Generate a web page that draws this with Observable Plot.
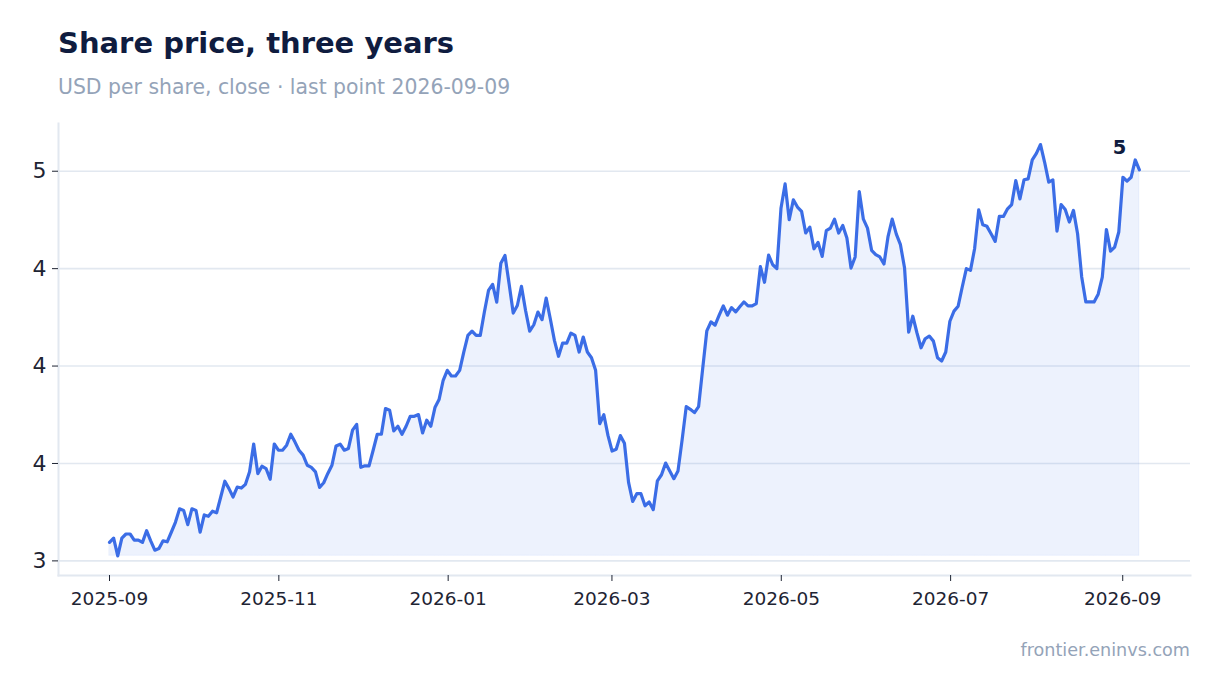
<!DOCTYPE html>
<html>
<head>
<meta charset="utf-8">
<script src="https://cdn.jsdelivr.net/npm/d3@7"></script>
<script src="https://cdn.jsdelivr.net/npm/@observablehq/plot@0.6"></script>
<style>
  html, body { margin: 0; padding: 0; background: #ffffff; }
  #wrap { position: relative; width: 1220px; height: 693px; font-family: "DejaVu Sans", sans-serif; overflow: hidden; }
  #title { position: absolute; left: 58px; top: 29px; font-size: 29px; font-weight: bold; color: #0f1c3f; line-height: 1; white-space: nowrap; }
  #subtitle { position: absolute; left: 58px; top: 77px; font-size: 20.4px; color: #94a3b8; line-height: 1; white-space: nowrap; }
  #chart { position: absolute; left: 0; top: 105px; }
  #footer { position: absolute; right: 30px; top: 642px; font-size: 17.6px; color: #94a3b8; line-height: 1; white-space: nowrap; }
</style>
</head>
<body>
<div id="wrap">
  <div id="title">Share price, three years</div>
  <div id="subtitle">USD per share, close · last point 2026-09-09</div>
  <div id="chart"></div>
  <div id="footer">frontier.eninvs.com</div>
</div>
<script>
// ---- data ----
const startDate = "2025-09-01";
const endDate = "2026-09-07";
const closes = [
  3.095, 3.117, 3.026, 3.117, 3.138, 3.138, 3.107, 3.107, 3.095, 3.155,
  3.103, 3.055, 3.064, 3.103, 3.098, 3.147, 3.198, 3.267, 3.259, 3.186,
  3.267, 3.259, 3.147, 3.236, 3.229, 3.255, 3.247, 3.328, 3.409, 3.371,
  3.328, 3.379, 3.374, 3.393, 3.457, 3.600, 3.448, 3.486, 3.474, 3.419,
  3.600, 3.568, 3.568, 3.594, 3.650, 3.611, 3.568, 3.543, 3.491, 3.480,
  3.457, 3.377, 3.401, 3.449, 3.491, 3.590, 3.599, 3.568, 3.577, 3.671,
  3.701, 3.480, 3.488, 3.488, 3.568, 3.650, 3.650, 3.782, 3.773, 3.667,
  3.691, 3.650, 3.691, 3.742, 3.742, 3.751, 3.657, 3.722, 3.691, 3.787,
  3.828, 3.927, 3.978, 3.949, 3.949, 3.978, 4.072, 4.157, 4.179, 4.157,
  4.157, 4.277, 4.388, 4.419, 4.328, 4.528, 4.568, 4.422, 4.272, 4.311,
  4.409, 4.285, 4.179, 4.212, 4.277, 4.238, 4.349, 4.243, 4.132, 4.050,
  4.118, 4.118, 4.169, 4.157, 4.072, 4.149, 4.072, 4.043, 3.978, 3.704,
  3.750, 3.644, 3.564, 3.573, 3.643, 3.604, 3.403, 3.305, 3.345, 3.345,
  3.283, 3.302, 3.263, 3.411, 3.442, 3.502, 3.462, 3.422, 3.462, 3.621,
  3.792, 3.778, 3.761, 3.792, 3.988, 4.181, 4.227, 4.210, 4.261, 4.309,
  4.261, 4.300, 4.278, 4.304, 4.329, 4.309, 4.309, 4.321, 4.510, 4.430,
  4.570, 4.520, 4.500, 4.810, 4.935, 4.751, 4.853, 4.816, 4.794, 4.683,
  4.713, 4.602, 4.635, 4.563, 4.695, 4.708, 4.754, 4.683, 4.722, 4.657,
  4.503, 4.560, 4.896, 4.754, 4.708, 4.594, 4.572, 4.560, 4.524, 4.666,
  4.754, 4.677, 4.623, 4.503, 4.174, 4.256, 4.171, 4.094, 4.140, 4.154,
  4.128, 4.043, 4.026, 4.072, 4.230, 4.282, 4.307, 4.406, 4.500, 4.491,
  4.602, 4.802, 4.725, 4.717, 4.679, 4.640, 4.768, 4.768, 4.807, 4.829,
  4.952, 4.858, 4.956, 4.961, 5.058, 5.092, 5.137, 5.046, 4.944, 4.956,
  4.693, 4.829, 4.804, 4.739, 4.799, 4.679, 4.457, 4.329, 4.329, 4.329,
  4.369, 4.457, 4.701, 4.590, 4.611, 4.688, 4.969, 4.949, 4.969, 5.058,
  5.007
];
const xTicks = ["2025-09-01", "2025-11-01", "2026-01-01", "2026-03-01", "2026-05-01", "2026-07-01", "2026-09-01"];
const yTicks = [3, 3.5, 4, 4.5, 5];
const yTickLabels = ["3", "4", "4", "4", "5"];
const xDomain = ["2025-08-13T15:00:00Z", "2026-09-25T10:00:00Z"];
const yDomain = [2.925, 5.245];

// ---- build table ----
const t0 = new Date(startDate + "T00:00:00Z").getTime();
const t1 = new Date(endDate + "T00:00:00Z").getTime();
const step = (t1 - t0) / (closes.length - 1);
const data = closes.map((v, i) => ({ date: new Date(t0 + i * step), value: v }));
const minVal = d3.min(closes);
const last = data[data.length - 1];

const lineColor = "#3b6de6";
const gridColor = "#e2e8f0";
const inkColor = "#1e2433";

const chart = Plot.plot({
  width: 1220,
  height: 520,
  marginTop: 18,
  marginBottom: 50,
  marginLeft: 58,
  marginRight: 30,
  style: { fontFamily: "DejaVu Sans, sans-serif", background: "transparent", overflow: "visible" },
  x: { type: "utc", domain: xDomain.map(d => new Date(d)) },
  y: { domain: yDomain },
  marks: [
    Plot.ruleY(yTicks, { stroke: gridColor, strokeWidth: 1.6 }),
    Plot.areaY(data, { x: "date", y1: () => minVal, y2: "value", fill: lineColor, fillOpacity: 0.09, stroke: lineColor, strokeOpacity: 0.07, strokeWidth: 1 }),
    Plot.lineY(data, { x: "date", y: "value", stroke: lineColor, strokeWidth: 3.2, strokeLinejoin: "round", strokeLinecap: "round" }),
    Plot.frame({ anchor: "left", stroke: gridColor, strokeWidth: 2 }),
    Plot.frame({ anchor: "bottom", stroke: gridColor, strokeWidth: 2 }),
    Plot.axisY({
      ticks: yTicks,
      tickFormat: (d, i) => yTickLabels[yTicks.indexOf(d)],
      tickSize: 6,
      tickPadding: 6,
      fontSize: 22,
      color: inkColor,
      stroke: inkColor,
      label: null
    }),
    Plot.axisX({
      ticks: xTicks.map(d => new Date(d + "T00:00:00Z")),
      tickFormat: d3.utcFormat("%Y-%m"),
      tickSize: 6,
      tickPadding: 10,
      fontSize: 18.5,
      color: inkColor,
      stroke: inkColor,
      label: null
    }),
    Plot.text([last], {
      x: "date",
      y: "value",
      text: d => d3.format(".0f")(d.value),
      textAnchor: "end",
      dx: -13,
      dy: -22,
      fontSize: 19.5,
      fontWeight: "bold",
      fill: "#0f1c3f"
    })
  ]
});
document.getElementById("chart").appendChild(chart);
</script>
</body>
</html>
